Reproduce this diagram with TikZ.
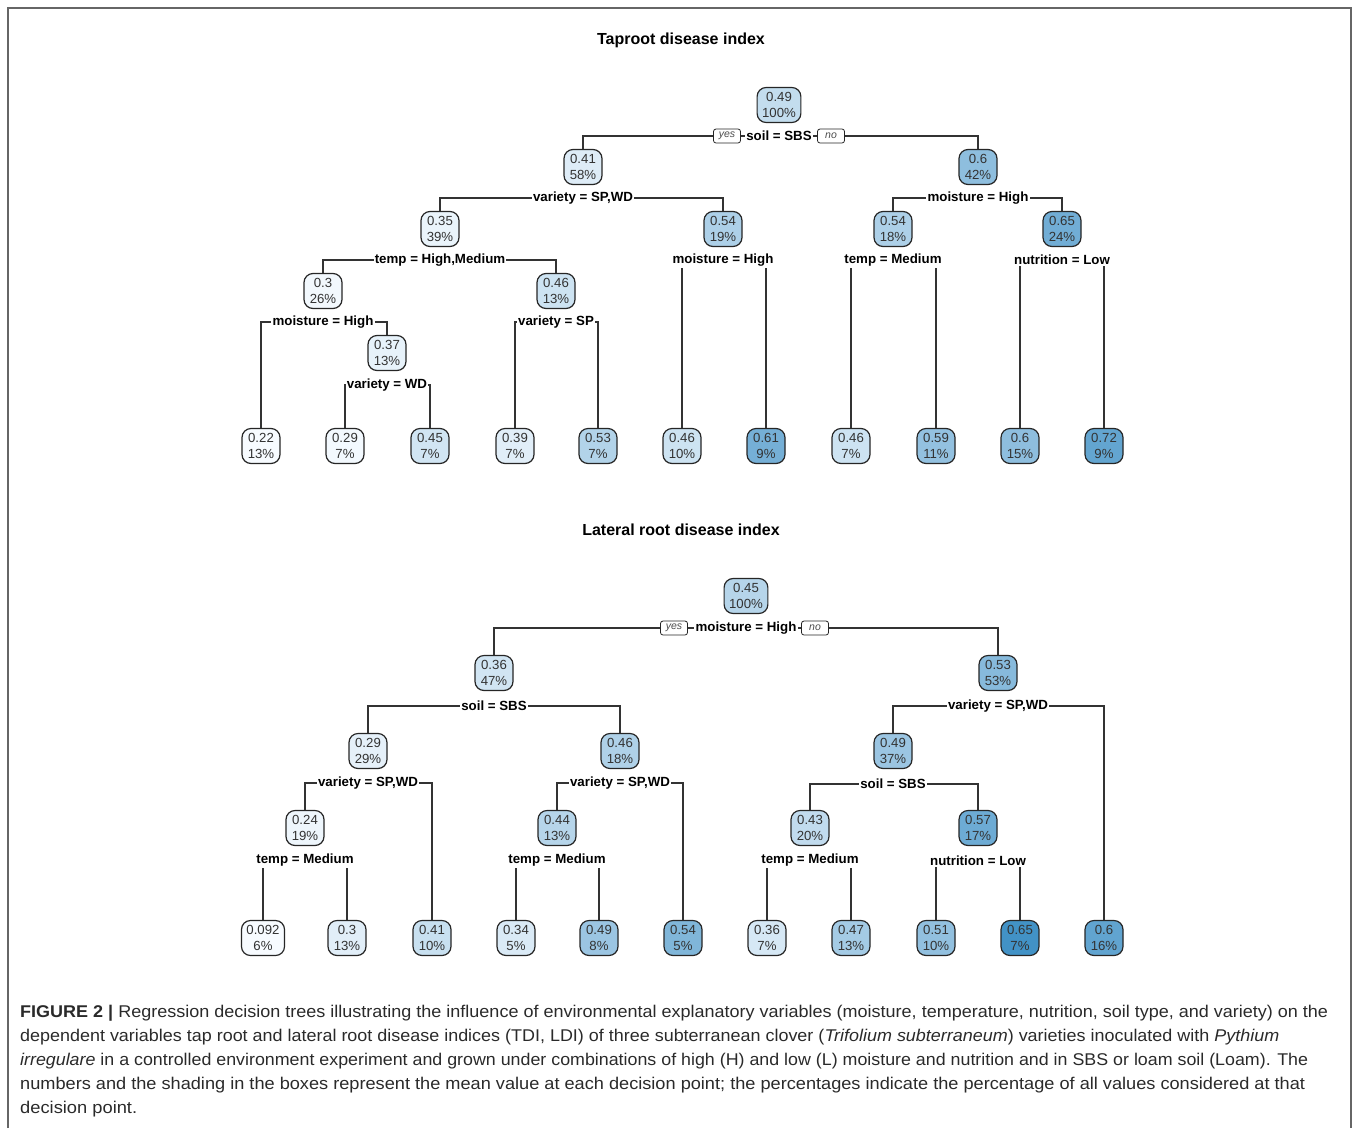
\documentclass[tikz,border=0pt]{standalone}
\usepackage{fontspec}
\setmainfont{Liberation Sans}
\usepackage{graphicx}
\definecolor{bl}{HTML}{4292C6}
\definecolor{bw}{HTML}{F7FBFF}
\definecolor{framec}{HTML}{666666}
\definecolor{edgec}{HTML}{333333}
\definecolor{capc}{HTML}{2A2A2A}
\tikzset{
  tn/.style={draw=black!85, line width=1.2pt, rounded corners=9pt, align=center,
    inner xsep=5pt, inner ysep=2pt, minimum height=35pt, minimum width=38pt,
    text=black!80, font=\fontsize{13.2}{16}\selectfont},
  lbl/.style={fill=white, inner xsep=1.2pt, inner ysep=1.5pt,
    font=\bfseries\fontsize{13.3}{15}\selectfont},
  yn/.style={draw=black!85, line width=0.8pt, rounded corners=2.5pt, fill=white,
    inner xsep=2pt, inner ysep=1pt, minimum width=27pt, minimum height=14pt,
    font=\itshape\fontsize{10.5}{12}\selectfont, text=black!70},
  edge/.style={line width=1.3pt, draw=edgec},
  ttl/.style={font=\bfseries\fontsize{16}{19}\selectfont},
  capl/.style={anchor=base west, inner sep=0pt, text=capc,
    font=\fontsize{17}{20}\selectfont},
}
% tree box: name, position, mean, share, shade
\newcommand\tnd[5]{\node[tn, fill=bl!#5!bw] (#1) at (#2) {#3\\#4};}
% split: name, position, left child, right child, rule
\newcommand\splt[5]{%
  \coordinate (#1) at (#2);
  \draw[edge] (#3.north) |- (#1) -| (#4.north);
  \node[lbl] (#1t) at (#1) {#5};}
\newcommand\capline[2]{\resizebox{#1}{\height}{#2}}
\begin{document}
\begin{tikzpicture}[x=1pt,y=-1pt]
\useasboundingbox (0,0) rectangle (1358,1128);
\draw[framec, line width=1.5pt] (8,1128) -- (8,8) -- (1351,8) -- (1351,1128);

% ---------------- taproot tree ----------------
\node[ttl] (t1) at (681,40) {Taproot disease index};
\tnd{a0}{779,105}{0.49}{100\%}{29}
\tnd{a1}{583,167}{0.41}{58\%}{14}
\tnd{a2}{978,167}{0.6}{42\%}{58}
\tnd{a3}{440,229}{0.35}{39\%}{7}
\tnd{a4}{723,229}{0.54}{19\%}{41}
\tnd{a5}{893,229}{0.54}{18\%}{41}
\tnd{a6}{1062,229}{0.65}{24\%}{74}
\tnd{a7}{323,291}{0.3}{26\%}{3}
\tnd{a8}{556,291}{0.46}{13\%}{23}
\tnd{a9}{387,353}{0.37}{13\%}{9}
\tnd{b1}{261,446}{0.22}{13\%}{0}
\tnd{b2}{345,446}{0.29}{7\%}{2}
\tnd{b3}{430,446}{0.45}{7\%}{21}
\tnd{b4}{515,446}{0.39}{7\%}{12}
\tnd{b5}{598,446}{0.53}{7\%}{38}
\tnd{b6}{682,446}{0.46}{10\%}{23}
\tnd{b7}{766,446}{0.61}{9\%}{72}
\tnd{b8}{851,446}{0.46}{7\%}{23}
\tnd{b9}{936,446}{0.59}{11\%}{55}
\tnd{b10}{1020,446}{0.6}{15\%}{58}
\tnd{b11}{1104,446}{0.72}{9\%}{82}

\splt{sa0}{779,136}{a1}{a2}{soil = SBS}
\node[yn] (ya) at (727,136) {yes};
\node[yn] (na) at (831,136) {no};
\splt{sa1}{583,198}{a3}{a4}{variety = SP,WD}
\splt{sa2}{978,198}{a5}{a6}{moisture = High}
\splt{sa3}{440,260}{a7}{a8}{temp = High,Medium}
\splt{sa4}{723,260}{b6}{b7}{moisture = High}
\splt{sa5}{893,260}{b8}{b9}{temp = Medium}
\splt{sa6}{1062,260}{b10}{b11}{nutrition = Low}
\splt{sa7}{323,322}{b1}{a9}{moisture = High}
\splt{sa8}{556,322}{b4}{b5}{variety = SP}
\splt{sa9}{387,385}{b2}{b3}{variety = WD}

% ---------------- lateral root tree ----------------
\node[ttl] (t2) at (681,530) {Lateral root disease index};
\tnd{c0}{746,596}{0.45}{100\%}{36}
\tnd{c1}{494,673}{0.36}{47\%}{21}
\tnd{c2}{998,673}{0.53}{53\%}{62}
\tnd{c3}{368,751}{0.29}{29\%}{10}
\tnd{c4}{620,751}{0.46}{18\%}{40}
\tnd{c5}{893,751}{0.49}{37\%}{51}
\tnd{c6}{305,828}{0.24}{19\%}{5}
\tnd{c7}{557,828}{0.44}{13\%}{36}
\tnd{c8}{810,828}{0.43}{20\%}{30}
\tnd{c9}{978,828}{0.57}{17\%}{76}
\tnd{d1}{263,938}{0.092}{6\%}{0}
\tnd{d2}{347,938}{0.3}{13\%}{12}
\tnd{d3}{432,938}{0.41}{10\%}{26}
\tnd{d4}{516,938}{0.34}{5\%}{16}
\tnd{d5}{599,938}{0.49}{8\%}{51}
\tnd{d6}{683,938}{0.54}{5\%}{66}
\tnd{d7}{767,938}{0.36}{7\%}{18}
\tnd{d8}{851,938}{0.47}{13\%}{46}
\tnd{d9}{936,938}{0.51}{10\%}{56}
\tnd{d10}{1020,938}{0.65}{7\%}{100}
\tnd{d11}{1104,938}{0.6}{16\%}{83}

\splt{sc0}{746,628}{c1}{c2}{moisture = High}
\node[yn] (yc) at (674,628) {yes};
\node[yn] (nc) at (815,628) {no};
\splt{sc1}{494,706}{c3}{c4}{soil = SBS}
\splt{sc2}{998,706}{c5}{d11}{variety = SP,WD}
\splt{sc3}{368,783}{c6}{d3}{variety = SP,WD}
\splt{sc4}{620,783}{c7}{d6}{variety = SP,WD}
\splt{sc5}{893,784}{c8}{c9}{soil = SBS}
\splt{sc6}{305,860}{d1}{d2}{temp = Medium}
\splt{sc7}{557,860}{d4}{d5}{temp = Medium}
\splt{sc8}{810,860}{d7}{d8}{temp = Medium}
\splt{sc9}{978,861}{d9}{d10}{nutrition = Low}

% ---------------- caption ----------------
\node[capl] (cap1) at (20,1017) {\capline{1308pt}{\textbf{FIGURE 2 |} Regression decision trees illustrating the influence of environmental explanatory variables (moisture, temperature, nutrition, soil type, and variety) on the}};
\node[capl] (cap2) at (20,1041) {\capline{1259pt}{dependent variables tap root and lateral root disease indices (TDI, LDI) of three subterranean clover (\textit{Trifolium subterraneum}) varieties inoculated with \textit{Pythium}}};
\node[capl] (cap3) at (20,1065) {\capline{1288pt}{\textit{irregulare} in a controlled environment experiment and grown under combinations of high (H) and low (L) moisture and nutrition and in SBS or loam soil (Loam). The}};
\node[capl] (cap4) at (20,1089) {\capline{1285pt}{numbers and the shading in the boxes represent the mean value at each decision point; the percentages indicate the percentage of all values considered at that}};
\node[capl] (cap5) at (20,1113) {\capline{117pt}{decision point.}};
\end{tikzpicture}
\end{document}
